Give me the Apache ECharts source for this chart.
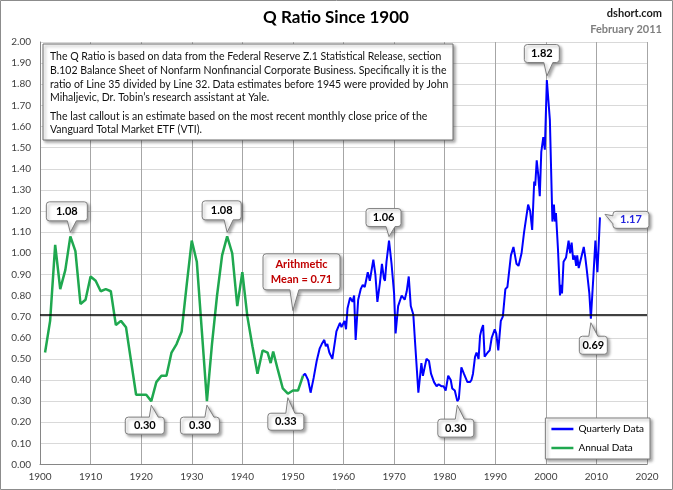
<!DOCTYPE html>
<html>
<head>
<meta charset="utf-8">
<script src="https://cdn.jsdelivr.net/npm/echarts@6/dist/echarts.min.js"></script>
<style>
html,body{margin:0;padding:0;background:#fff;}
#chart{width:673px;height:490px;}
</style>
</head>
<body>
<div id="chart"></div>
<script>
// ---------- DATA ----------
const annualYears = [1901,1902,1903,1904,1905,1906,1907,1908,1909,1910,1911,1912,1913,1914,1915,1916,1917,1918,1919,1920,1921,1922,1923,1924,1925,1926,1927,1928,1929,1930,1931,1932,1933,1934,1935,1936,1937,1938,1939,1940,1941,1942,1943,1944,1945,1945.6,1946.1,1947,1948,1949,1950,1951,1952];
const annualValues = [0.53,0.68,1.04,0.83,0.92,1.08,1.01,0.76,0.78,0.89,0.87,0.82,0.83,0.82,0.66,0.68,0.65,0.49,0.33,0.33,0.33,0.30,0.39,0.42,0.42,0.53,0.57,0.63,0.85,1.06,0.96,0.63,0.30,0.57,0.80,0.99,1.08,1.00,0.75,0.91,0.70,0.56,0.43,0.54,0.53,0.48,0.535,0.45,0.36,0.335,0.35,0.35,0.42];

const quarterlyYears = [1952.0,1952.4,1953.0,1953.5,1954.1,1954.7,1955.3,1955.7,1956.2,1956.5,1956.8,1957.2,1957.8,1958.3,1958.6,1959.3,1959.6,1960.2,1960.5,1960.8,1961.3,1961.8,1962.1,1962.4,1962.9,1963.4,1963.8,1964.2,1964.8,1965.2,1965.9,1966.3,1966.7,1967.2,1967.6,1968.0,1968.2,1968.5,1969.0,1969.5,1970.0,1970.3,1970.8,1971.5,1972.1,1972.5,1972.9,1973.3,1973.8,1974.2,1974.8,1975.4,1975.7,1976.4,1976.9,1977.3,1977.9,1978.4,1978.8,1979.4,1979.8,1980.2,1980.7,1981.2,1981.5,1982.0,1982.5,1982.8,1983.3,1983.8,1984.5,1985.0,1985.3,1985.6,1986.0,1986.3,1986.7,1987.0,1987.3,1987.6,1987.9,1988.5,1988.9,1989.3,1989.9,1990.2,1990.6,1991.1,1991.5,1992.0,1992.4,1993.1,1993.6,1994.2,1994.6,1995.2,1995.7,1996.5,1996.9,1997.3,1997.7,1997.9,1998.2,1998.5,1998.8,1999.1,1999.5,1999.8,2000.2,2000.8,2001.3,2001.6,2001.8,2002.0,2002.4,2002.8,2003.0,2003.2,2003.5,2004.0,2004.5,2004.8,2005.1,2005.4,2005.7,2006.0,2006.2,2006.5,2007.0,2007.5,2007.8,2008.1,2008.6,2008.9,2009.4,2009.8,2010.2,2010.7];
const quarterlyValues = [0.42,0.43,0.40,0.34,0.41,0.49,0.55,0.57,0.59,0.56,0.57,0.53,0.50,0.58,0.63,0.67,0.65,0.68,0.64,0.74,0.79,0.77,0.80,0.59,0.78,0.83,0.85,0.84,0.91,0.87,0.97,0.90,0.77,0.86,0.95,0.88,0.87,0.96,1.06,0.95,0.81,0.62,0.75,0.80,0.78,0.82,0.89,0.75,0.71,0.56,0.34,0.48,0.42,0.50,0.49,0.43,0.39,0.37,0.38,0.37,0.37,0.35,0.42,0.40,0.36,0.35,0.30,0.31,0.46,0.43,0.39,0.39,0.40,0.43,0.51,0.53,0.50,0.61,0.64,0.66,0.51,0.53,0.54,0.60,0.64,0.62,0.54,0.68,0.70,0.83,0.84,0.99,1.03,0.95,0.94,1.00,1.10,1.23,1.20,1.11,1.34,1.32,1.44,1.37,1.27,1.48,1.55,1.49,1.82,1.63,1.15,1.23,1.15,1.19,1.02,0.80,0.85,0.81,0.96,0.98,1.06,1.00,1.05,0.97,0.99,0.94,0.99,0.93,0.98,1.03,0.98,0.92,0.81,0.69,0.89,1.06,0.91,1.17];

const meanValue = 0.71;
const calloutYears  = [1906, 1937, 1922, 1933, 1949, 1950, 1969, 1982.5, 2000.2, 2008.9, 2010.7];
const calloutValues = [1.08, 1.08, 0.30, 0.30, 0.335, 0.71, 1.06, 0.30, 1.82, 0.69, 1.17];
const calloutTexts  = ['1.08','1.08','0.30','0.30','0.33','Arithmetic\nMean = 0.71','1.06','0.30','1.82','0.69','1.17'];

const xTicks = {min:1900, max:2020, interval:10};
const yTicks = {min:0, max:2, interval:0.1};

const titleText = 'Q Ratio Since 1900';
const sourceText = 'dshort.com';
const dateText = 'February 2011';
const noteLines = [
  'The Q Ratio is based on data from the Federal Reserve Z.1 Statistical Release, section',
  'B.102 Balance Sheet of Nonfarm Nonfinancial Corporate Business. Specifically it is the',
  'ratio of Line 35 divided by Line 32. Data estimates before 1945 were provided by John',
  'Mihaljevic, Dr. Tobin\u2019s research assistant at Yale.',
  'The last callout is an estimate based on the most recent monthly close price of the',
  'Vanguard Total Market ETF (VTI).'
];

// ---------- LAYOUT ----------
const noteLineY = [57, 71, 84.5, 98, 116.5, 130];
const calloutLayout = [
  {dx:-3.5, dy:-25,  w:41, h:19, side:'b'},
  {dx:-5.5, dy:-26,  w:39, h:19, side:'b'},
  {dx:-6.5, dy:24.5, w:39, h:17, side:'t'},
  {dx:-7,   dy:24.5, w:39, h:17, side:'t'},
  {dx:-2,   dy:28,   w:36, h:17, side:'t'},
  {dx:8.6,  dy:-42.7,w:77, h:36, side:'b', color:'#c00000'},
  {dx:-5.5, dy:-23,  w:35, h:18, side:'b'},
  {dx:-1.5, dy:27,   w:36, h:18, side:'t'},
  {dx:-5,   dy:-26.5,w:35, h:18, side:'b'},
  {dx:2.5,  dy:26.5, w:28, h:18, side:'t'},
  {dx:31,   dy:2.5,  w:36, h:17, side:'l', color:'#2222dd'}
];

const FONT = 'Lato, "Open Sans", sans-serif';

function zip(a, b){ return a.map((v,i)=>[v, b[i]]); }

function bubblePath(l, t, r, b, side, tip){
  const k = 3;
  let s = `M${l+k},${t}`;
  if (side === 't'){
    let bx1 = Math.min(Math.max(tip[0]-2, l+5), r-14);
    s += ` L${bx1},${t} L${tip[0]},${tip[1]} L${bx1+9},${t}`;
  }
  s += ` L${r-k},${t} Q${r},${t} ${r},${t+k} L${r},${b-k} Q${r},${b} ${r-k},${b}`;
  if (side === 'b'){
    let bx1 = Math.min(Math.max(tip[0]-3, l+5), r-14);
    s += ` L${bx1+9},${b} L${tip[0]},${tip[1]} L${bx1},${b}`;
  }
  s += ` L${l+k},${b} Q${l},${b} ${l},${b-k}`;
  if (side === 'l'){
    const cy = (t+b)/2;
    s += ` L${l},${cy+4} L${tip[0]},${tip[1]} L${l},${cy-4}`;
  }
  s += ` L${l},${t+k} Q${l},${t} ${l+k},${t} Z`;
  return s;
}

function renderCallout(params, api){
  const i = params.dataIndex;
  const L = calloutLayout[i];
  const p = api.coord([api.value(0), api.value(1)]);
  const cx = p[0] + L.dx, cy = p[1] + L.dy;
  const l = cx - L.w/2, r = cx + L.w/2, t = cy - L.h/2, b = cy + L.h/2;
  let tip;
  if (L.side === 'b') tip = [p[0], p[1] - 4];
  else if (L.side === 't') tip = [p[0], p[1] + 4];
  else tip = [p[0] + 5, p[1] - 3];
  return {
    type: 'group',
    children: [
      {type:'path', shape:{pathData: bubblePath(l,t,r,b,L.side,tip)},
       style:{fill:'#fff', stroke:'#7f7f7f', lineWidth:1,
              shadowBlur:3, shadowOffsetX:2, shadowOffsetY:2, shadowColor:'rgba(0,0,0,0.35)'}},
      {type:'text', style:{text: calloutTexts[i], x: cx, y: cy, align:'center', verticalAlign:'middle',
              font: 'bold 11px ' + FONT, fill: L.color || '#000', lineHeight: 15}}
    ]
  };
}

const noteGraphics = noteLines.map((line, i) => ({
  type:'text', z:51,
  style:{text: line, x:50, y: noteLineY[i], align:'left', verticalAlign:'middle', font:'10.5px ' + FONT, fill:'#111'}
}));

const chart = echarts.init(document.getElementById('chart'));
const option = {
  animation: false,
  backgroundColor: '#fff',
  grid: {left: 40, right: 26, top: 42, bottom: 25.5, containLabel: false},
  xAxis: {
    type: 'value', min: xTicks.min, max: xTicks.max, interval: xTicks.interval,
    axisLine: {show: true, lineStyle: {color: '#868686'}},
    axisTick: {show: false},
    axisLabel: {color: '#404040', fontSize: 10, fontFamily: FONT, margin: 7, formatter: v => String(v)},
    splitLine: {show: true, lineStyle: {color: '#a6a6a6', width: 1}}
  },
  yAxis: {
    type: 'value', min: yTicks.min, max: yTicks.max, interval: yTicks.interval,
    axisLine: {show: true, lineStyle: {color: '#868686'}},
    axisTick: {show: false},
    axisLabel: {color: '#404040', fontSize: 10, fontFamily: FONT, margin: 9, formatter: v => v.toFixed(2)},
    splitLine: {show: true, lineStyle: {color: '#d9d9d9', width: 1}}
  },
  legend: {
    orient: 'vertical', right: 23, bottom: 31,
    data: [{name:'Quarterly Data', icon:'rect'}, {name:'Annual Data', icon:'rect'}],
    backgroundColor: '#fff', borderColor: '#7f7f7f', borderWidth: 1, borderRadius: 0,
    padding: [6, 6, 6, 6], itemGap: 9, itemWidth: 22, itemHeight: 2.5,
    shadowBlur: 3, shadowOffsetX: 2, shadowOffsetY: 2, shadowColor: 'rgba(0,0,0,0.35)',
    textStyle: {fontSize: 10, fontFamily: FONT, color: '#000'}
  },
  graphic: [
    {type:'rect', shape:{x:0.5, y:0.5, width:672, height:489}, style:{fill:'none', stroke:'#8c8c8c', lineWidth:1}, z:100},
    {type:'text', style:{text:titleText, x:336, y:18, align:'center', verticalAlign:'middle', font:'bold 17px ' + FONT, fill:'#000'}},
    {type:'text', style:{text:sourceText, x:662, y:13, align:'right', verticalAlign:'middle', font:'bold 11px ' + FONT, fill:'#1a1a1a'}},
    {type:'text', style:{text:dateText, x:662, y:29, align:'right', verticalAlign:'middle', font:'bold 11px ' + FONT, fill:'#7f7f7f'}},
    {type:'rect', shape:{x:43, y:44, width:410, height:96}, z:50,
     style:{fill:'#fff', stroke:'#6f6f6f', lineWidth:1, shadowBlur:3, shadowOffsetX:2, shadowOffsetY:2, shadowColor:'rgba(0,0,0,0.35)'}}
  ].concat(noteGraphics),
  series: [
    {
      name: 'Quarterly Data', type: 'line', data: zip(quarterlyYears, quarterlyValues),
      symbol: 'none', lineStyle: {color: '#0000ff', width: 2}, itemStyle: {color: '#0000ff'}, z: 3
    },
    {
      name: 'Annual Data', type: 'line', data: zip(annualYears, annualValues),
      symbol: 'none', lineStyle: {color: '#1fa84f', width: 2.5}, itemStyle: {color: '#1fa84f'}, z: 3,
      markLine: {silent: true, symbol: 'none', label: {show: false},
        lineStyle: {color: '#000', width: 1.6, type: 'solid'},
        data: [{yAxis: meanValue}]}
    },
    {
      name: 'callouts', type: 'custom', coordinateSystem: 'cartesian2d',
      data: calloutYears.map((y, i) => [y, calloutValues[i]]),
      renderItem: renderCallout, z: 10, silent: true
    }
  ]
};
chart.setOption(option);
</script>
</body>
</html>
